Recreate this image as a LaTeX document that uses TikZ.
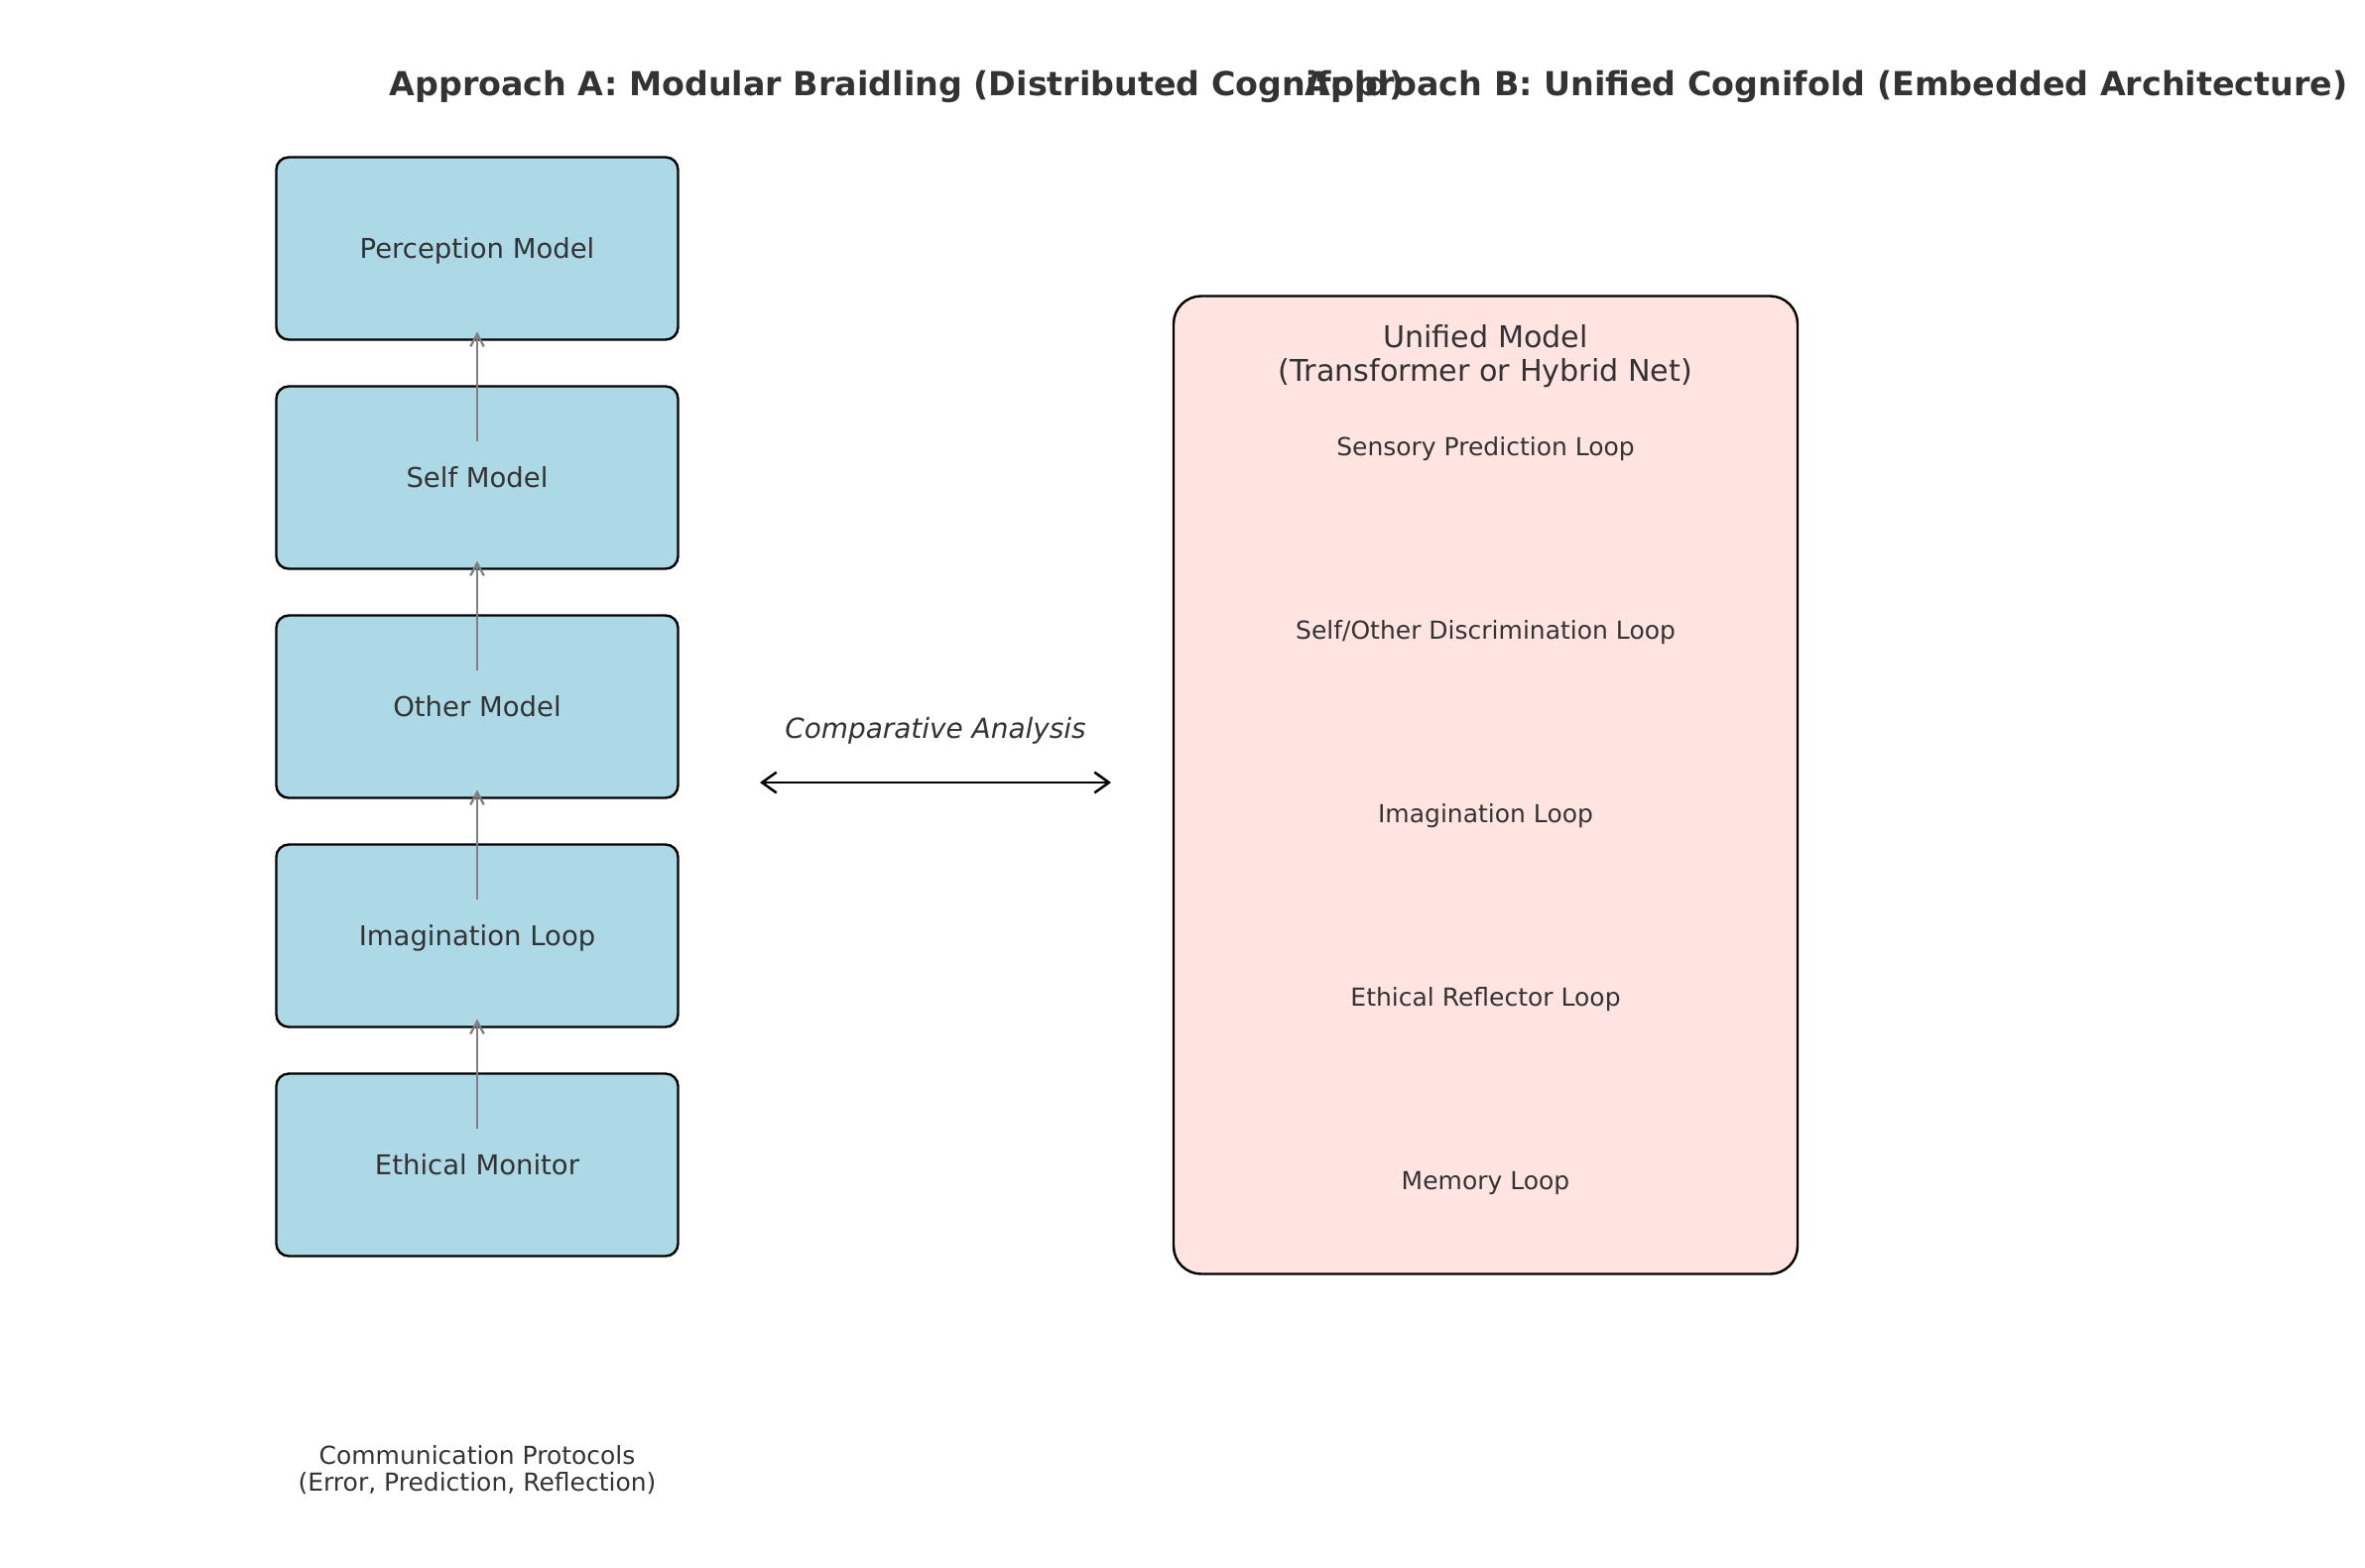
\documentclass[tikz,border=0pt]{standalone}
\usepackage{fontspec}
\setmainfont{DejaVu Sans}
\usetikzlibrary{arrows.meta}
\definecolor{txt}{HTML}{333333}
\definecolor{lblue}{HTML}{ADD8E6}
\definecolor{mrose}{HTML}{FFE4E1}
\definecolor{agray}{HTML}{808080}
\begin{document}
\begin{tikzpicture}[x=0.48pt,y=-0.48pt,
  capc/.style={text depth=0pt, inner sep=0pt, outer sep=0pt, text=txt},
  titletext/.style={capc, text height=11.66pt, font=\fontsize{16}{19}\selectfont\bfseries},
  modbox/.style={draw=black, line width=1.15pt, fill=lblue, rounded corners=6pt,
    minimum width=194.4pt, minimum height=88.3pt, capc, text height=9.62pt,
    font=\fontsize{13.2}{15}\selectfont},
  unibox/.style={draw=black, line width=1.15pt, fill=mrose, rounded corners=13.4pt,
    minimum width=301.9pt, minimum height=473.3pt, inner sep=0pt, outer sep=0pt},
  unititle/.style={align=center, inner sep=0pt, text=txt, font=\fontsize{14.5}{16.3}\selectfont},
  looptext/.style={capc, text height=8.75pt, font=\fontsize{12}{14}\selectfont},
  comptext/.style={capc, text height=9.77pt, font=\fontsize{13.4}{16}\selectfont\itshape},
  commtext/.style={align=center, inner sep=0pt, text=txt, font=\fontsize{12}{13.2}\selectfont},
  garrow/.style={draw=agray, line width=1.1pt, -{Straight Barb[length=6pt,width=6.5pt]}},
  carrow/.style={draw=black, line width=1.2pt, {Straight Barb[length=7pt,width=10pt]}-{Straight Barb[length=7pt,width=10pt]}}
]
\useasboundingbox (0,0) rectangle (2384,1580);

% titles
\node[titletext] (ta) at (904,84.5) {Approach A: Modular Braidling (Distributed Cognifold)};
\node[titletext] (tb) at (1841,84.5) {Approach B: Unified Cognifold (Embedded Architecture)};

% modular stack
\node[modbox] (perc) at (481,250.5) {Perception Model};
\node[modbox] (self) at (481,481.5) {Self Model};
\node[modbox] (other) at (481,712.5) {Other Model};
\node[modbox] (imag) at (481,943.5) {Imagination Loop};
\node[modbox] (eth) at (481,1174.5) {Ethical Monitor};

\draw[garrow] ([yshift=17.5pt]self.center) -- ([yshift=3.84pt]perc.south);
\draw[garrow] ([yshift=17.5pt]other.center) -- ([yshift=3.84pt]self.south);
\draw[garrow] ([yshift=17.5pt]imag.center) -- ([yshift=3.84pt]other.south);
\draw[garrow] ([yshift=17.5pt]eth.center) -- ([yshift=3.84pt]imag.south);

\node[commtext] (comm) at (481,1482) {Communication Protocols\\(Error, Prediction, Reflection)};

% comparative
\node[comptext] (ca) at (943,734) {Comparative Analysis};
\coordinate (cl) at (766,789);
\coordinate (cr) at (1120,789);
\draw[carrow] (cl) -- (cr);

% unified
\node[unibox] (uni) at (1497.5,791.5) {};
\node[unititle] (ut) at (1497.5,359.5) {Unified Model\\(Transformer or Hybrid Net)};
\node[looptext] (l1) at (1497.5,450) {Sensory Prediction Loop};
\node[looptext] (l2) at (1497.5,635) {Self/Other Discrimination Loop};
\node[looptext] (l3) at (1497.5,820) {Imagination Loop};
\node[looptext] (l4) at (1497.5,1005) {Ethical Reflector Loop};
\node[looptext] (l5) at (1497.5,1190) {Memory Loop};
\end{tikzpicture}
\end{document}
